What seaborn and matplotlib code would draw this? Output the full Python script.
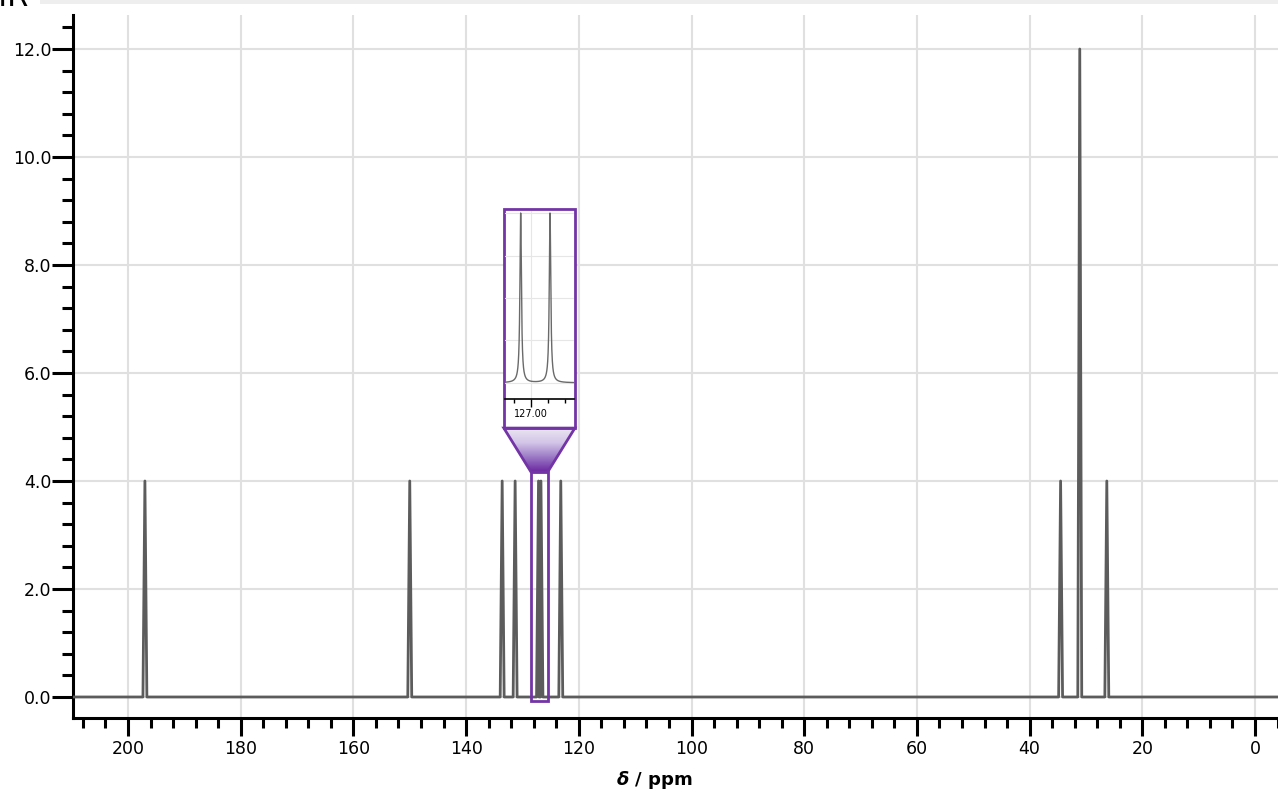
import numpy as np
import matplotlib
matplotlib.use("Agg")
import matplotlib.pyplot as plt
import seaborn as sns
from matplotlib.ticker import MultipleLocator, FormatStrFormatter, FixedLocator
from matplotlib.patches import Rectangle, Polygon
from matplotlib.colors import LinearSegmentedColormap

# ---- data ----
shifts_ppm = [197.0, 150.0, 133.6, 131.3, 127.15, 126.72, 123.2, 34.5, 31.1, 26.3]
intensities = [4.0, 4.0, 4.0, 4.0, 4.0, 4.0, 4.0, 4.0, 12.0, 4.0]
zoom_ppm = [125.5, 128.5]          # region shown enlarged in the inset
inset_ticks = [127.0]
x_label = r"$\boldsymbol{\delta}$ / ppm"
header_text = "NMR"

# ---- style ----
sns.set_theme(style="ticks")
plt.rcParams["font.family"] = ["DejaVu Sans"]
PURPLE = "#7334a6"
LINE = "#5c5c5c"

W, H = 1278, 792
fig = plt.figure(figsize=(W / 100, H / 100), dpi=100)
fig.patch.set_facecolor("white")
ax = fig.add_axes([72.5 / W, 1 - 718 / H, 1 - 72.5 / W, (718 - 15) / H])

XL, XR = 209.85, -4.08
YB, YT = -0.389, 12.63

# main spectrum: narrow peaks on a flat baseline
hw = 0.35
order = np.argsort(shifts_ppm)[::-1]
xs, ys = [XL], [0.0]
for i in order:
    p, h = shifts_ppm[i], intensities[i]
    xs += [p + hw, p, p - hw]
    ys += [0.0, h, 0.0]
xs.append(XR)
ys.append(0.0)
sns.lineplot(x=xs, y=ys, sort=False, estimator=None, color=LINE, lw=2.0, ax=ax, zorder=3)

ax.set_xlim(XL, XR)
ax.set_ylim(YB, YT)
ax.set_facecolor("white")
for s in ["top", "right"]:
    ax.spines[s].set_visible(False)
for s in ["left", "bottom"]:
    ax.spines[s].set_linewidth(2.2)
    ax.spines[s].set_color("black")

ax.xaxis.set_major_locator(MultipleLocator(20))
ax.xaxis.set_minor_locator(MultipleLocator(4))
ax.yaxis.set_major_locator(MultipleLocator(2))
ax.yaxis.set_minor_locator(MultipleLocator(0.4))
ax.yaxis.set_major_formatter(FormatStrFormatter("%.1f"))
ax.tick_params(axis="x", which="major", length=13, width=2.2, pad=3, labelsize=12.5, colors="black")
ax.tick_params(axis="x", which="minor", length=7, width=2.2, colors="black")
ax.tick_params(axis="y", which="major", length=15, width=2.2, pad=0, labelsize=12.5, colors="black")
ax.tick_params(axis="y", which="minor", length=8, width=2.2, colors="black")
ax.grid(True, which="major", color="#e0e0e0", lw=1.5, zorder=0)
ax.set_axisbelow(True)

ax.set_xlabel(x_label, fontsize=13, fontweight="bold", va="top", color="black")
ax.xaxis.set_label_coords(0.483, -0.072)
ax.set_ylabel("")


def fx(x):
    return (x - XL) / (XR - XL)


def fy(y):
    return (y - YB) / (YT - YB)


# zoom rectangle on the main spectrum
z0, z1 = zoom_ppm
ax.add_patch(Rectangle((z0, -0.07), z1 - z0, 4.24, fill=False, ec=PURPLE, lw=2, zorder=6))

# funnel with gradient
fun_top_y, fun_bot_y = 4.98, 4.17
box_l, box_r = 133.3, 120.7
funnel = Polygon([(box_l, fun_top_y), (box_r, fun_top_y), (z0, fun_bot_y), (z1, fun_bot_y)],
                 closed=True, fc="none", ec=PURPLE, lw=2, zorder=5)
ax.add_patch(funnel)
cmap = LinearSegmentedColormap.from_list("fun", ["#6a26a0", "#9a78c4", "#d3c5e7", "#ebe6f3"])
grad = np.linspace(0, 1, 256).reshape(-1, 1)
im = ax.imshow(grad, extent=[box_l, box_r, fun_bot_y, fun_top_y], origin="lower",
               cmap=cmap, aspect="auto", zorder=4)
im.set_clip_path(funnel)
ax.set_xlim(XL, XR)
ax.set_ylim(YB, YT)

# inset frame
ax.add_patch(Rectangle((box_r, fun_top_y), box_l - box_r, 9.04 - fun_top_y,
                       fc="white", ec=PURPLE, lw=2, zorder=4.5))

# inset axes
ix0, ix1, iy0, iy1 = 133.1, 120.87, 5.52, 9.0
axi = ax.inset_axes([fx(ix0), fy(iy0), fx(ix1) - fx(ix0), fy(iy1) - fy(iy0)], zorder=7)
axi.set_facecolor("none")
IXL, IXR = 127.38, 126.37
gx = np.linspace(IXL, IXR, 800)
gamma = 0.013
gy = np.zeros_like(gx)
for p, h in zip(shifts_ppm, intensities):
    if IXR - 0.5 < p < IXL + 0.5:
        gy += h * gamma ** 2 / ((gx - p) ** 2 + gamma ** 2)
sns.lineplot(x=gx, y=gy, sort=False, estimator=None, color="#6a6a6a", lw=1.0, ax=axi)
axi.set_xlim(IXL, IXR)
axi.set_ylim(-0.38, 4.05)
for s in ["top", "right", "left"]:
    axi.spines[s].set_visible(False)
axi.spines["bottom"].set_linewidth(1.2)
axi.spines["bottom"].set_color("black")
axi.xaxis.set_major_locator(FixedLocator(inset_ticks))
axi.xaxis.set_major_formatter(FormatStrFormatter("%.2f"))
axi.xaxis.set_minor_locator(MultipleLocator(0.25))
axi.yaxis.set_major_locator(MultipleLocator(1))
axi.tick_params(axis="x", which="major", length=6, width=1, labelsize=7, pad=1, colors="black")
axi.tick_params(axis="x", which="minor", length=3, width=1, colors="black")
axi.tick_params(axis="y", which="both", length=0, labelleft=False)
axi.grid(True, which="major", color="#e6e6e6", lw=0.8)
axi.set_axisbelow(True)
axi.set_xlabel("")
axi.set_ylabel("")

# cropped header remnants
fig.patches.append(Rectangle((40 / W, 1 - 4 / H), 1 - 40 / W, 4 / H, transform=fig.transFigure,
                             fc="#eeeeee", ec="none", figure=fig))
fig.text(28 / W, 1 - 6 / H, header_text, ha="right", va="baseline", fontsize=22, color="black")

fig.savefig("out.png", dpi=100)
